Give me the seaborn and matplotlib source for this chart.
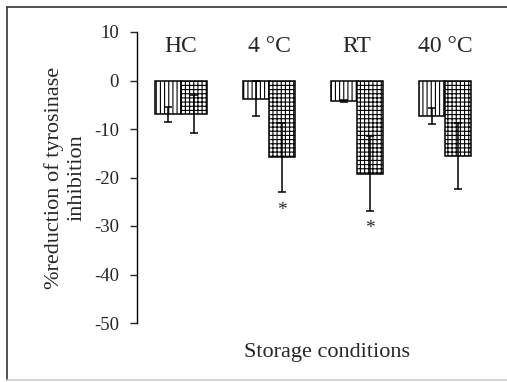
import pandas as pd
import matplotlib.pyplot as plt
from matplotlib.lines import Line2D
import seaborn as sns

# values
conditions = ["HC", "4 \u00b0C", "RT", "40 \u00b0C"]
series_names = ["series 1", "series 2"]
vals_1 = [-7.0, -3.8, -4.2, -7.4]
err_1 = [1.6, 3.6, 0.2, 1.65]
vals_2 = [-6.9, -15.8, -19.2, -15.5]
err_2 = [4.0, 7.1, 7.7, 6.8]
star_pos = [(1, -26.8), (2, -30.5)]   # (condition index, y) for second series
yticks = [10, 0, -10, -20, -30, -40, -50]

sns.set_style("white")
plt.rcParams["font.family"] = ["Liberation Serif", "DejaVu Serif"]
plt.rcParams["axes.unicode_minus"] = False
plt.rcParams["hatch.linewidth"] = 0.8
plt.rcParams["hatch.color"] = "black"

df = pd.DataFrame({
    "condition": conditions * 2,
    "series": [series_names[0]] * 4 + [series_names[1]] * 4,
    "value": vals_1 + vals_2,
})

fig = plt.figure(figsize=(5.07, 3.82), dpi=100)
ax = fig.add_axes([137 / 507, 59 / 382, 352 / 507, 291 / 382])

sns.barplot(data=df, x="condition", y="value", hue="series", palette=["white", "white"],
            edgecolor="black", linewidth=1.1, width=0.59, errorbar=None, legend=False, ax=ax)

hatches = ["||||", "++++"]
errs = [err_1, err_2]
for cont, h, e in zip(ax.containers, hatches, errs):
    xs = []
    ys = []
    for bar in cont:
        bar.set_hatch(h)
        bar.set_edgecolor("black")
        xs.append(bar.get_x() + bar.get_width() / 2)
        ys.append(bar.get_height())
    ax.errorbar(xs, ys, yerr=e, fmt="none", ecolor="black", elinewidth=1.1,
                capsize=3, capthick=1.1, zorder=5)

# asterisks under the significant bars
bars_2 = ax.containers[1]
for i, y in star_pos:
    b = bars_2[i]
    ax.text(b.get_x() + b.get_width() / 2, y, "*", ha="center", va="center", fontsize=14)

# condition names inside the plot, at the top
for i, c in enumerate(conditions):
    ax.text(i, 5.9, c, ha="center", va="baseline", fontsize=17)

ax.set_ylim(-50, 10)
ax.set_xlim(-0.5, 3.5)
ax.set_yticks(yticks)
ax.set_xticks([])
ax.set_xlabel("")
ax.set_ylabel("%reduction of tyrosinase\ninhibition", fontsize=16, labelpad=5, linespacing=1.3)
ax.tick_params(axis="y", direction="out", length=5, width=1, labelsize=13.5, left=True, pad=8)
sns.despine(ax=ax, top=True, right=True, bottom=True)
ax.spines["left"].set_color("black")
ax.spines["left"].set_linewidth(1)

fig.text(327 / 507, 25 / 382, "Storage conditions", ha="center", va="baseline", fontsize=16)

# frame around the picture
fig.add_artist(Line2D([7 / 507, 7 / 507], [2 / 382, 375 / 382], color="#333333", lw=1.2))
fig.add_artist(Line2D([7 / 507, 1.0], [375 / 382, 375 / 382], color="#333333", lw=1.2))
fig.add_artist(Line2D([7 / 507, 1.0], [2 / 382, 2 / 382], color="#cccccc", lw=1.2))

fig.savefig("out.png", dpi=100)
